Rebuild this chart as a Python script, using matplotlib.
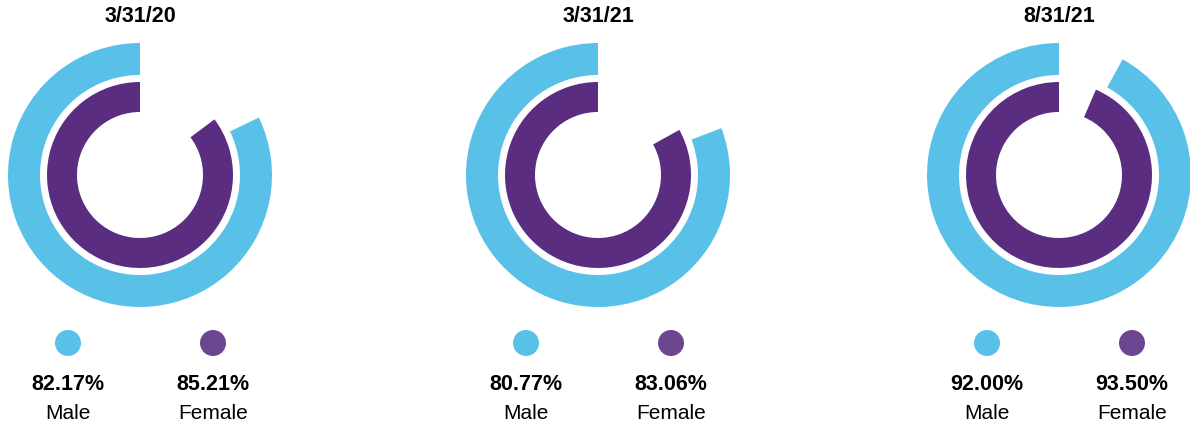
import matplotlib
matplotlib.use("Agg")
import matplotlib.pyplot as plt
from matplotlib.patches import Wedge, Circle

plt.rcParams['font.family'] = ['Liberation Sans', 'DejaVu Sans']

# data
dates = ["3/31/20", "3/31/21", "8/31/21"]
male = [82.17, 80.77, 92.00]
female = [85.21, 83.06, 93.50]

BLUE = "#59c1e8"
PURPLE = "#5a2d81"
PURPLE_DOT = "#6c4690"

W, H = 1190, 427
fig = plt.figure(figsize=(W / 100, H / 100), dpi=100)
ax = fig.add_axes([0, 0, 1, 1])
ax.set_xlim(0, W)
ax.set_ylim(0, H)
ax.set_aspect('equal')
ax.axis('off')

centers_x = [140, 598, 1059]
cy = H - 176

for i, d in enumerate(dates):
    cx = centers_x[i]
    # outer ring (male), starts at 12 o'clock, goes counterclockwise
    ax.add_patch(Wedge((cx, cy), 132, 90, 90 + male[i] * 3.6, width=32,
                       facecolor=BLUE, edgecolor='none'))
    # inner ring (female)
    ax.add_patch(Wedge((cx, cy), 93, 90, 90 + female[i] * 3.6, width=30,
                       facecolor=PURPLE, edgecolor='none'))

    ax.text(cx, H - 17, d, ha='center', va='center', fontsize=15.5,
            fontweight='bold', color='black')

    # legend
    for dx, val, lab, col in [(-72, male[i], "Male", BLUE),
                              (73, female[i], "Female", PURPLE_DOT)]:
        ax.add_patch(Circle((cx + dx, H - 344), 13, facecolor=col,
                            edgecolor='none'))
        ax.text(cx + dx, H - 385, f"{val:.2f}%", ha='center', va='center',
                fontsize=15.5, fontweight='bold', color='black')
        ax.text(cx + dx, H - 414, lab, ha='center', va='center',
                fontsize=15, color='black')

fig.savefig("out.png", dpi=100)
